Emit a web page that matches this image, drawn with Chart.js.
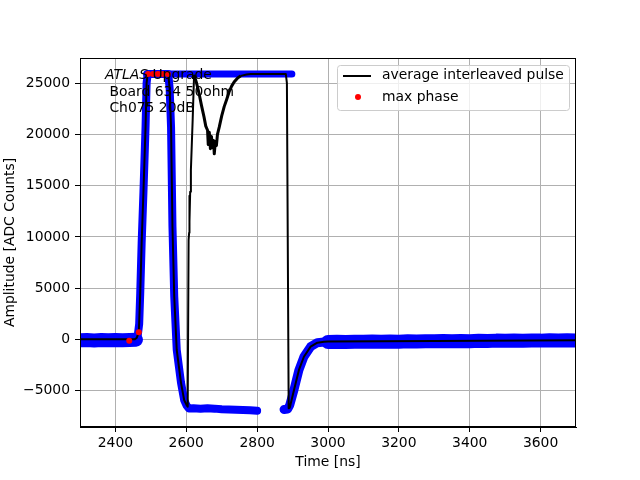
<!DOCTYPE html>
<html>
<head>
<meta charset="utf-8">
<script src="https://cdn.jsdelivr.net/npm/chart.js@4/dist/chart.umd.min.js"></script>
<style>
  body { margin: 0; background: #fff; }
  canvas { display: block; }
</style>
</head>
<body>
<canvas id="chart" width="640" height="480"></canvas>
<script>
const xTicks = [2400, 2600, 2800, 3000, 3200, 3400, 3600];
const yTicks = [-5000, 0, 5000, 10000, 15000, 20000, 25000];

// average interleaved pulse (black line)
const avgTime = [2300, 2455, 2460, 2466, 2470, 2474, 2479, 2485, 2488, 2491, 2549, 2553, 2557, 2561, 2566, 2573, 2585, 2594, 2601, 2604,
  2606.5, 2608, 2609.5, 2608.5, 2611, 2613, 2618, 2622, 2629, 2636, 2643, 2650, 2655, 2660, 2662, 2665, 2668, 2671, 2674, 2677,
  2679, 2682, 2685, 2688, 2693, 2700, 2707, 2714, 2721, 2728, 2735, 2745, 2754, 2770, 2782, 2881, 2884, 2889, 2892, 2904,
  2918, 2932, 2951, 2970, 2989, 3000, 3300, 3700];
const avgAdc = [30, 30, 150, 700, 4500, 9400, 14300, 20700, 25000, 25880, 25880, 24500, 20700, 11000, 4200, -1000, -4200, -5900, -6400, -6550,
  9700, 10400, 14000, 11500, 14400, 16500, 21400, 25800, 25000, 24000, 22800, 21700, 20800, 20400, 19000, 20200, 18600, 19800, 18700, 19400,
  18100, 19300, 18900, 20000, 20700, 21800, 22700, 23400, 24150, 24700, 25100, 25500, 25700, 25830, 25870, 25880, 25000, -6700, -6650, -4920,
  -2970, -1680, -700, -310, -210, -200, -150, -70];

// max phase (red dots)
const maxTime = [2439, 2466, 2492, 2506, 2520, 2534, 2548];
const maxAdc = [-120, 700, 25880, 25880, 25880, 25880, 25880];

// raw samples (blue): baseline before the pulse
const rawTimeBase = [2300, 2320, 2340, 2360, 2380, 2400, 2420, 2440, 2458];
const rawAdcBase = [-80, -60, -90, -50, -80, -40, -70, -50, -30];

// raw samples: pulse and undershoot plateau
const rawTimePulse = [2455, 2463, 2467, 2470, 2474, 2479, 2485, 2488, 2491, 2549, 2553, 2557, 2561, 2566, 2573, 2585, 2594, 2601, 2607, 2620,
  2640, 2660, 2680, 2700, 2720, 2740, 2760, 2780, 2800];
const rawAdcPulse = [0, 400, 1500, 4500, 9400, 14300, 20700, 25000, 25880, 25880, 24500, 20700, 11000, 4200, -1000, -4200, -5900, -6450, -6720, -6700,
  -6760, -6700, -6740, -6800, -6820, -6850, -6880, -6900, -6940];

// raw samples: saturated plateau
const rawTimeTop = [2488, 2898];
const rawAdcTop = [25880, 25880];

// raw samples: recovery after the second edge
const rawTimeRec = [2876, 2886, 2892, 2904, 2918, 2932, 2951, 2970, 2989, 3000];
const rawAdcRec = [-6820, -6780, -6400, -4900, -2970, -1680, -700, -310, -240, -240];

// raw samples: tail baseline
const rawTimeTail = [3000, 3025, 3050, 3075, 3100, 3125, 3150, 3175, 3200, 3225,
  3250, 3275, 3300, 3325, 3350, 3375, 3400, 3425, 3450, 3475,
  3500, 3525, 3550, 3575, 3600, 3625, 3650, 3675, 3700];
const rawAdcTail = [-240, -230, -250, -220, -230, -200, -220, -190, -210, -180,
  -200, -170, -180, -150, -170, -140, -160, -120, -150, -110,
  -130, -100, -120, -90, -110, -80, -100, -70, -90];

const FONT = 'DejaVu Sans';
const BLUE = '#0000ff';
const pts = (xs, ys) => xs.map((x, i) => ({ x: x, y: ys[i] }));

function rawSet(xs, ys, width) {
  return {
    data: pts(xs, ys),
    showLine: true,
    borderColor: BLUE,
    borderWidth: width,
    borderCapStyle: 'round',
    borderJoinStyle: 'round',
    pointRadius: 0,
    tension: 0,
    clip: 0,
    order: 2
  };
}

// frame, text box and legend drawn like matplotlib
const extras = {
  id: 'extras',
  afterDatasetsDraw(chart) {
    const ctx = chart.ctx;
    ctx.save();
    ctx.fillStyle = '#000';
    ctx.textBaseline = 'middle';
    ctx.textAlign = 'left';
    ctx.font = 'italic 13.9px "' + FONT + '"';
    ctx.fillText('ATLAS', 105, 75);
    const w = ctx.measureText('ATLAS').width;
    ctx.font = '13.9px "' + FONT + '"';
    ctx.fillText(' Upgrade', 105 + w, 75);
    ctx.fillText(' Board 634 50ohm', 105, 92);
    ctx.fillText(' Ch075 20dB', 105, 108.5);
    ctx.restore();
  },
  afterDraw(chart) {
    const ctx = chart.ctx;
    const a = chart.chartArea;
    ctx.save();
    ctx.strokeStyle = '#000';
    ctx.lineWidth = 1;
    ctx.strokeRect(Math.round(a.left) + 0.5, Math.round(a.top) + 0.5, Math.round(a.right - a.left) - 1, Math.round(a.bottom - a.top) - 1);

    // legend
    ctx.beginPath();
    ctx.roundRect(337.5, 65.5, 232, 45, 3);
    ctx.fillStyle = 'rgba(255,255,255,0.8)';
    ctx.fill();
    ctx.strokeStyle = '#cccccc';
    ctx.stroke();
    ctx.beginPath();
    ctx.moveTo(343, 76);
    ctx.lineTo(371, 76);
    ctx.strokeStyle = '#000';
    ctx.lineWidth = 2;
    ctx.stroke();
    ctx.beginPath();
    ctx.arc(358, 97, 3, 0, Math.PI * 2);
    ctx.fillStyle = 'red';
    ctx.fill();
    ctx.fillStyle = '#000';
    ctx.font = '13.9px "' + FONT + '"';
    ctx.textBaseline = 'middle';
    ctx.fillText('average interleaved pulse', 382, 75.5);
    ctx.fillText('max phase', 382, 97);
    ctx.restore();
  }
};

new Chart(document.getElementById('chart'), {
  type: 'scatter',
  data: {
    datasets: [
      {
        label: 'max phase',
        data: pts(maxTime, maxAdc),
        showLine: false,
        pointRadius: 3,
        pointBackgroundColor: 'red',
        pointBorderWidth: 0,
        clip: 0,
        order: 0
      },
      {
        label: 'average interleaved pulse',
        data: pts(avgTime, avgAdc),
        showLine: true,
        borderColor: '#000',
        borderWidth: 2,
        borderJoinStyle: 'round',
        pointRadius: 0,
        tension: 0,
        clip: 0,
        order: 1,
        // the noisy dip after the second rise reads a bit heavier
        segment: {
          borderWidth: (c) => (c.p0.parsed.x >= 2622 && c.p1.parsed.x <= 2760 ? 3 : 2)
        }
      },
      rawSet(rawTimeBase, rawAdcBase, 14),
      rawSet(rawTimePulse, rawAdcPulse, 8),
      rawSet(rawTimeTop, rawAdcTop, 7),
      rawSet(rawTimeRec, rawAdcRec, 9),
      rawSet(rawTimeTail, rawAdcTail, 14)
    ]
  },
  options: {
    responsive: false,
    animation: false,
    events: [],
    layout: { padding: { left: 0, right: 64, top: 58, bottom: 0 } },
    plugins: { legend: { display: false }, tooltip: { enabled: false } },
    scales: {
      x: {
        type: 'linear',
        min: 2300,
        max: 3700,
        afterBuildTicks: (s) => { s.ticks = xTicks.map((v) => ({ value: v })); },
        afterFit: (s) => { s.height = 53; },
        grid: { color: '#b0b0b0', lineWidth: 1, tickColor: '#000', tickLength: 5 },
        border: { color: '#000', width: 1 },
        ticks: { color: '#000', font: { family: FONT, size: 13.9 }, padding: 3, maxRotation: 0, callback: (v) => String(v) },
        title: { display: true, text: 'Time [ns]', color: '#000', font: { family: FONT, size: 13.9 }, padding: { top: 0, bottom: 9 } }
      },
      y: {
        type: 'linear',
        min: -8530,
        max: 27440,
        afterBuildTicks: (s) => { s.ticks = yTicks.map((v) => ({ value: v })); },
        afterFit: (s) => { s.width = 80; },
        grid: { color: '#b0b0b0', lineWidth: 1, tickColor: '#000', tickLength: 5 },
        border: { color: '#000', width: 1 },
        ticks: { color: '#000', font: { family: FONT, size: 13.9 }, padding: 5, callback: (v) => (v < 0 ? '\u2212' + Math.abs(v) : String(v)) },
        title: { display: true, text: 'Amplitude [ADC Counts]', color: '#000', font: { family: FONT, size: 13.9 }, padding: { top: 2, bottom: 0 } }
      }
    }
  },
  plugins: [extras]
});
</script>
</body>
</html>
